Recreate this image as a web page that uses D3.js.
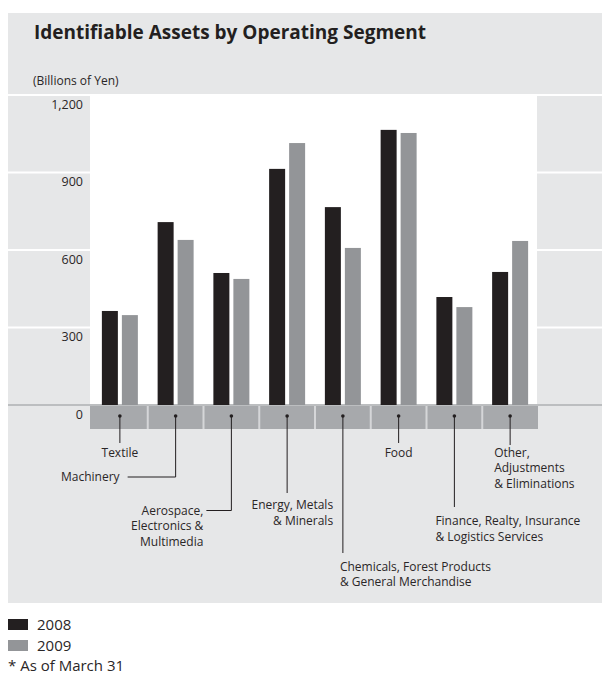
<!DOCTYPE html>
<html>
<head>
<meta charset="utf-8">
<script src="https://cdn.jsdelivr.net/npm/d3@7/dist/d3.min.js"></script>
<style>
  html, body { margin: 0; padding: 0; background: #ffffff; }
  svg { display: block; font-family: "Open Sans", "Noto Sans", sans-serif; }
</style>
</head>
<body>
<svg id="chart" width="602" height="673"></svg>
<script>
// Identifiable assets by operating segment, billions of yen (as of March 31)
const categories = [
  "Textile",
  "Machinery",
  "Aerospace, Electronics & Multimedia",
  "Energy, Metals & Minerals",
  "Chemicals, Forest Products & General Merchandise",
  "Food",
  "Finance, Realty, Insurance & Logistics Services",
  "Other, Adjustments & Eliminations"
];
const categoryLines = [
  ["Textile"],
  ["Machinery"],
  ["Aerospace,", "Electronics &", "Multimedia"],
  ["Energy, Metals", "& Minerals"],
  ["Chemicals, Forest Products", "& General Merchandise"],
  ["Food"],
  ["Finance, Realty, Insurance", "& Logistics Services"],
  ["Other,", "Adjustments", "& Eliminations"]
];
const years = ["2008", "2009"];
const values2008 = [364, 708, 511, 914, 766, 1065, 418, 515];
const values2009 = [348, 639, 488, 1014, 608, 1053, 379, 635];
const yTicks = [0, 300, 600, 900, 1200];

// Callout layout for each segment label: how far the leader drops,
// optional elbow, and where the text block sits relative to the bar group.
const callouts = [
  { drop: 443, elbow: null, anchor: "middle", dx: 0,   y: 456.5 },
  { drop: 477, elbow: -48,  anchor: "end",    dx: -56, y: 480.5 },
  { drop: 510.5, elbow: -25, anchor: "end",   dx: -28, y: 514.5 },
  { drop: 493, elbow: null, anchor: "end",    dx: 46,  y: 509 },
  { drop: 553, elbow: null, anchor: "start",  dx: -3,  y: 570.5 },
  { drop: 443, elbow: null, anchor: "middle", dx: 0,   y: 456.5 },
  { drop: 507, elbow: null, anchor: "start",  dx: -19, y: 525 },
  { drop: 445, elbow: null, anchor: "start",  dx: -16, y: 456.5 }
];

const colors = { "2008": "#231f20", "2009": "#939598" };
const ink = "#2a2627";

const svg = d3.select("#chart");

const panel = { x: 8, y: 13, w: 594, h: 590 };
const plot = { left: 90, right: 537, top: 95, bottom: 405 };

const y = d3.scaleLinear().domain([0, 1200]).range([plot.bottom, plot.top]);
const x0 = d3.scaleBand().domain(categories).range([92, 538]);
const x1 = d3.scaleBand().domain(years).range([0, x0.bandwidth()])
  .paddingInner(0.2).paddingOuter(0.494);

// Background panel
svg.append("rect")
  .attr("x", panel.x).attr("y", panel.y)
  .attr("width", panel.w).attr("height", panel.h)
  .attr("fill", "#e6e7e8");

// Grid lines (white, visible on the grey margins)
svg.append("g").selectAll("line")
  .data(yTicks.filter(d => d > 0))
  .join("line")
  .attr("x1", panel.x).attr("x2", panel.x + panel.w)
  .attr("y1", d => y(d)).attr("y2", d => y(d))
  .attr("stroke", "#ffffff").attr("stroke-width", 2);

// White plotting area
svg.append("rect")
  .attr("x", plot.left).attr("y", plot.top)
  .attr("width", plot.right - plot.left).attr("height", plot.bottom - plot.top)
  .attr("fill", "#ffffff");

// Title and unit
svg.append("text")
  .attr("x", 34).attr("y", 38.5)
  .attr("font-size", 19).attr("font-weight", 700)
  .attr("fill", "#231f20")
  .text("Identifiable Assets by Operating Segment");

svg.append("text")
  .attr("x", 33).attr("y", 85)
  .attr("font-size", 12)
  .attr("fill", ink)
  .text("(Billions of Yen)");

// Y axis labels
const yAxis = d3.axisLeft(y).tickValues(yTicks).tickSize(0).tickPadding(0)
  .tickFormat(d3.format(","));
const yg = svg.append("g").attr("transform", "translate(83,0)").call(yAxis);
yg.select(".domain").remove();
yg.selectAll("text")
  .attr("font-family", "Open Sans, Noto Sans, sans-serif")
  .attr("font-size", 12.5)
  .attr("fill", ink)
  .attr("dy", null)
  .attr("y", 13);

// Category strip under the baseline
svg.append("rect")
  .attr("x", plot.left).attr("y", plot.bottom)
  .attr("width", 538 - plot.left).attr("height", 24)
  .attr("fill", "#a7a9ac");

svg.append("g").selectAll("line")
  .data(categories.slice(1))
  .join("line")
  .attr("x1", d => x0(d)).attr("x2", d => x0(d))
  .attr("y1", plot.bottom).attr("y2", plot.bottom + 24)
  .attr("stroke", "#d5d6d8").attr("stroke-width", 2);

// Baseline
svg.append("line")
  .attr("x1", panel.x).attr("x2", panel.x + panel.w)
  .attr("y1", y(0)).attr("y2", y(0))
  .attr("stroke", "#bcbec0").attr("stroke-width", 2);

// Bars
const rows = categories.map((c, i) => ({
  category: c,
  values: [
    { year: "2008", value: values2008[i] },
    { year: "2009", value: values2009[i] }
  ]
}));

svg.append("g").selectAll("g")
  .data(rows)
  .join("g")
  .attr("transform", d => `translate(${x0(d.category)},0)`)
  .selectAll("rect")
  .data(d => d.values)
  .join("rect")
  .attr("x", d => x1(d.year))
  .attr("width", x1.bandwidth())
  .attr("y", d => y(d.value))
  .attr("height", d => y(0) - y(d.value))
  .attr("fill", d => colors[d.year]);

// Segment callouts
const cg = svg.append("g");
categories.forEach((c, i) => {
  const cx = x0(c) + x0.bandwidth() / 2;
  const co = callouts[i];
  const pts = [[cx, 416], [cx, co.drop]];
  if (co.elbow !== null) pts.push([cx + co.elbow, co.drop]);
  cg.append("path")
    .attr("d", d3.line()(pts))
    .attr("fill", "none").attr("stroke", "#231f20").attr("stroke-width", 1);
  cg.append("circle")
    .attr("cx", cx).attr("cy", 416).attr("r", 1.8).attr("fill", "#231f20");
  const t = cg.append("text")
    .attr("x", cx + co.dx).attr("y", co.y)
    .attr("text-anchor", co.anchor)
    .attr("font-size", 12).attr("fill", ink);
  categoryLines[i].forEach((line, j) => {
    t.append("tspan").attr("x", cx + co.dx).attr("dy", j === 0 ? 0 : 15.7).text(line);
  });
});

// Legend
const lg = svg.append("g");
years.forEach((yr, i) => {
  lg.append("rect")
    .attr("x", 8).attr("y", 619 + i * 21)
    .attr("width", 20).attr("height", 11)
    .attr("fill", colors[yr]);
  lg.append("text")
    .attr("x", 37).attr("y", 629.5 + i * 21)
    .attr("font-size", 15).attr("fill", ink)
    .text(yr);
});
lg.append("text")
  .attr("x", 8).attr("y", 670.5)
  .attr("font-size", 15).attr("fill", ink)
  .text("* As of March 31");
</script>
</body>
</html>
